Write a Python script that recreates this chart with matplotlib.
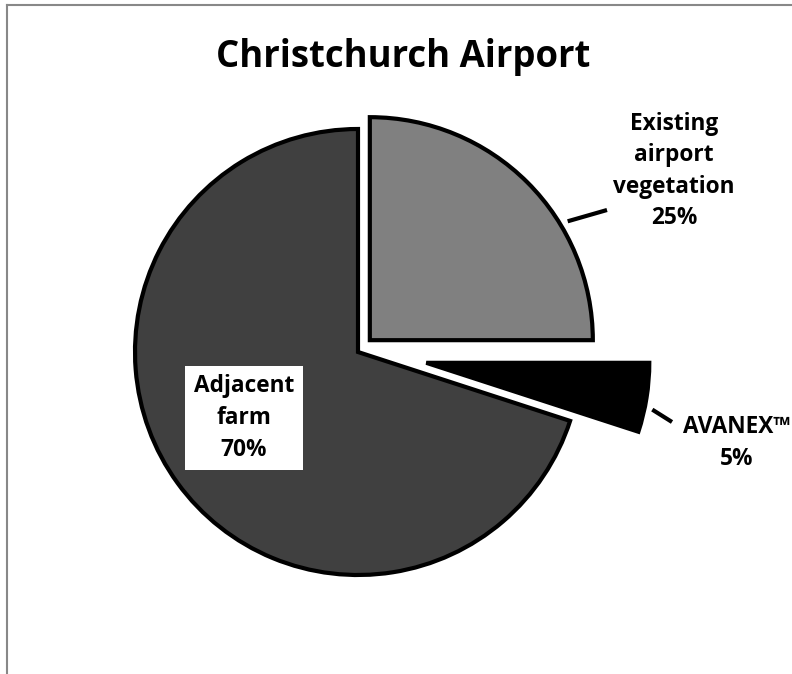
"""Christchurch Airport pie chart (share of three land-use sources)."""

import matplotlib

matplotlib.use("Agg")

import matplotlib.pyplot as plt
import numpy as np
from matplotlib.lines import Line2D

# --- data ---
categories = ["Existing airport vegetation", "AVANEX™", "Adjacent farm"]
shares = [25, 5, 70]
label_texts = ["Existing\nairport\nvegetation\n25%", "AVANEX™\n5%", "Adjacent\nfarm\n70%"]
colors = ["#808080", "#000000", "#404040"]
explode = [0.075, 0.31, 0.0]

# --- layout (pixels of a 792x674 canvas) ---
W, H = 792, 674
CX, CY, R = 358, 352, 223  # farm wedge centre and radius


def px(x, y):
    """Pixel position -> data coords (unit = pie radius)."""
    return (x - CX) / R, (CY - y) / R


FONT = "Open Sans"

fig = plt.figure(figsize=(W / 100, H / 100), dpi=100)
ax = fig.add_axes([0, 0, 1, 1])

wedges, _ = ax.pie(
    shares,
    colors=colors,
    explode=explode,
    startangle=90,
    counterclock=False,
    wedgeprops=dict(edgecolor="black", linewidth=3.0, joinstyle="miter"),
)

ax.set_xlim(-CX / R, (W - CX) / R)
ax.set_ylim(-(H - CY) / R, CY / R)
ax.set_aspect("auto")
ax.axis("off")

# --- labels ---
txt = dict(ha="center", va="center", fontsize=16.3, fontweight="bold",
           family=FONT, linespacing=1.42, color="black")
ax.text(*px(674, 171), label_texts[0], **txt)
ax.text(*px(737, 443), label_texts[1], **txt, clip_on=False)
ax.text(*px(244, 418), label_texts[2],
        bbox=dict(boxstyle="square,pad=0.38", facecolor="white", edgecolor="none"),
        **txt)


# leader lines: from a point just outside the wedge rim to a pixel position
def leader(wedge, ang, r0, end):
    cx, cy = wedge.center
    a = np.deg2rad(ang)
    ex, ey = px(*end)
    ax.plot([cx + r0 * np.cos(a), ex], [cy + r0 * np.sin(a), ey],
            color="black", linewidth=3.0, solid_capstyle="butt")


leader(wedges[0], 31, 1.035, (607, 210))
leader(wedges[1], -11.7, 1.035, (672, 422))

# --- title ---
fig.text(0.5095, 1 - 67 / H, "Christchurch Airport", ha="center", va="baseline",
         fontsize=26.3, fontweight="bold", family=FONT)

# --- chart frame (only left and top edges are visible) ---
fig.add_artist(Line2D([7 / W, 1], [1 - 5 / H] * 2, color="#888888", linewidth=1.5))
fig.add_artist(Line2D([7 / W] * 2, [0, 1 - 5 / H], color="#888888", linewidth=1.5))

fig.savefig("out.png", dpi=100)
